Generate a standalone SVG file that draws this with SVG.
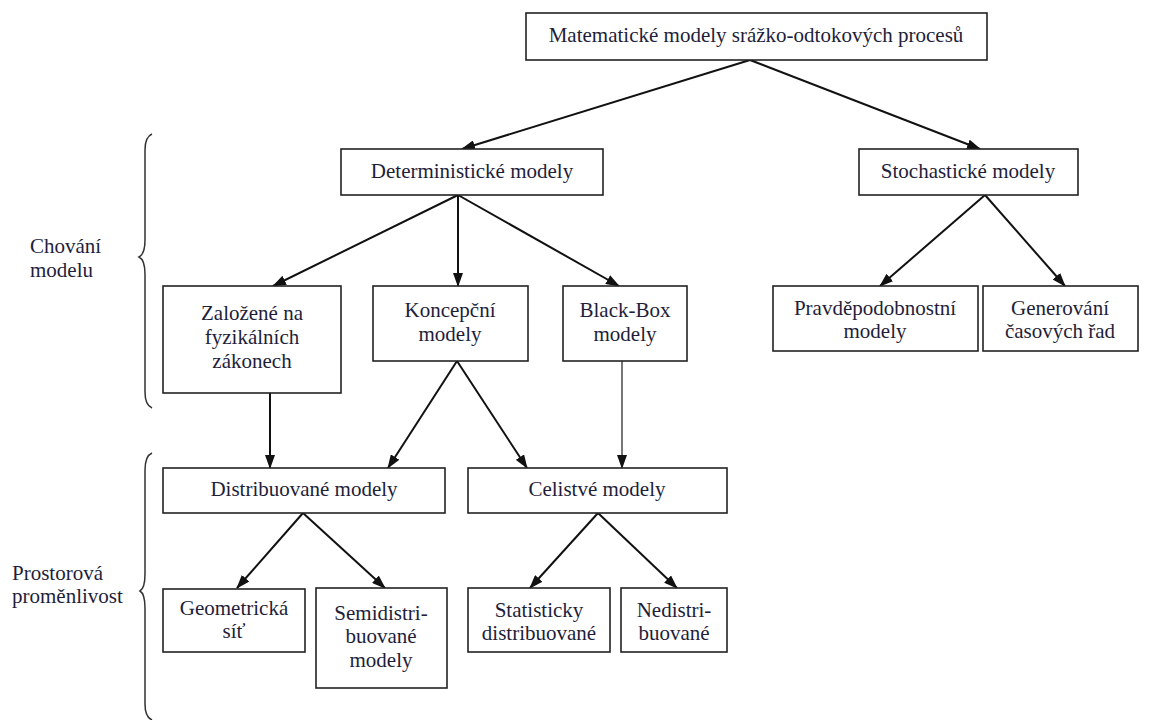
<svg xmlns="http://www.w3.org/2000/svg" width="1150" height="720" viewBox="0 0 1150 720">
<defs>
<style>
.box{fill:#fff;stroke:#222;stroke-width:1.6}
.t{font-family:"Liberation Serif","Times New Roman",serif;font-size:21px;fill:#1e1e3a;text-anchor:middle}
.lbl{font-family:"Liberation Serif","Times New Roman",serif;font-size:21px;fill:#1e1e3a}
.c{stroke:#111;stroke-width:2;fill:none}
.brace{stroke:#333;stroke-width:1.5;fill:none}
</style>
<marker id="ah" markerWidth="14" markerHeight="10" refX="13" refY="5" orient="auto" markerUnits="userSpaceOnUse">
<path d="M0,0 L14,5 L0,10 Z" fill="#111"/>
</marker>
</defs>
<rect width="1150" height="720" fill="#fff"/>

<g id="connectors">
<line class="c" x1="750" y1="60" x2="462" y2="149" marker-end="url(#ah)"/>
<line class="c" x1="750" y1="60" x2="980" y2="149" marker-end="url(#ah)"/>
<line class="c" x1="458" y1="195" x2="273" y2="286" marker-end="url(#ah)"/>
<line class="c" x1="458" y1="195" x2="458" y2="286" marker-end="url(#ah)"/>
<line class="c" x1="458" y1="195" x2="619" y2="286" marker-end="url(#ah)"/>
<line class="c" x1="985" y1="195" x2="880" y2="286" marker-end="url(#ah)"/>
<line class="c" x1="985" y1="195" x2="1065" y2="286" marker-end="url(#ah)"/>
<line class="c" x1="270" y1="393" x2="270" y2="468" marker-end="url(#ah)"/>
<line class="c" x1="457" y1="361" x2="388" y2="468" marker-end="url(#ah)"/>
<line class="c" x1="457" y1="361" x2="527" y2="468" marker-end="url(#ah)"/>
<line class="c" x1="622" y1="361" x2="622" y2="468" style="stroke:#777" marker-end="url(#ah)"/>
<line class="c" x1="303" y1="513" x2="237" y2="588" marker-end="url(#ah)"/>
<line class="c" x1="303" y1="513" x2="385" y2="588" marker-end="url(#ah)"/>
<line class="c" x1="598" y1="513" x2="530" y2="588" marker-end="url(#ah)"/>
<line class="c" x1="598" y1="513" x2="677" y2="588" marker-end="url(#ah)"/>
</g>

<g id="braces">
<path class="brace" d="M152,134 Q145,137 145,150 L145,240 Q145,254 139,257 Q145,260 145,274 L145,392 Q145,405 152,408"/>
<path class="brace" d="M152,453 Q145,456 145,470 L145,574 Q145,588 140,591 Q145,594 145,608 L145,704 Q145,717 152,720"/>
</g>

<g id="label-chovani">
<text class="lbl" x="30" y="253">Chování</text>
<text class="lbl" x="30" y="277">modelu</text>
</g>
<g id="label-prostorova">
<text class="lbl" x="12" y="580">Prostorová</text>
<text class="lbl" x="12" y="603">proměnlivost</text>
</g>

<g id="n-top">
<rect class="box" x="526" y="13" width="461" height="47"/>
<text class="t" x="756" y="42">Matematické modely srážko-odtokových procesů</text>
</g>
<g id="n-det">
<rect class="box" x="341" y="149" width="262" height="46"/>
<text class="t" x="472" y="178">Deterministické modely</text>
</g>
<g id="n-sto">
<rect class="box" x="859" y="149" width="219" height="46"/>
<text class="t" x="968" y="178">Stochastické modely</text>
</g>
<g id="n-zal">
<rect class="box" x="163" y="286" width="178" height="107"/>
<text class="t" x="252" y="320">Založené na</text>
<text class="t" x="252" y="344">fyzikálních</text>
<text class="t" x="252" y="368">zákonech</text>
</g>
<g id="n-kon">
<rect class="box" x="373" y="286" width="155" height="75"/>
<text class="t" x="450" y="317">Koncepční</text>
<text class="t" x="450" y="341">modely</text>
</g>
<g id="n-bb">
<rect class="box" x="563" y="286" width="124" height="75"/>
<text class="t" x="625" y="317">Black-Box</text>
<text class="t" x="625" y="341">modely</text>
</g>
<g id="n-pra">
<rect class="box" x="773" y="286" width="205" height="65"/>
<text class="t" x="875" y="315">Pravděpodobnostní</text>
<text class="t" x="875" y="338">modely</text>
</g>
<g id="n-gen">
<rect class="box" x="983" y="286" width="155" height="65"/>
<text class="t" x="1060" y="315">Generování</text>
<text class="t" x="1060" y="338">časových řad</text>
</g>
<g id="n-dis">
<rect class="box" x="163" y="468" width="282" height="45"/>
<text class="t" x="304" y="496">Distribuované modely</text>
</g>
<g id="n-cel">
<rect class="box" x="468" y="468" width="259" height="45"/>
<text class="t" x="597" y="496">Celistvé modely</text>
</g>
<g id="n-geo">
<rect class="box" x="163" y="589" width="142" height="63"/>
<text class="t" x="234" y="615">Geometrická</text>
<text class="t" x="234" y="638">síť</text>
</g>
<g id="n-semi">
<rect class="box" x="316" y="588" width="131" height="100"/>
<text class="t" x="381" y="620">Semidistri-</text>
<text class="t" x="381" y="643">buované</text>
<text class="t" x="381" y="667">modely</text>
</g>
<g id="n-stat">
<rect class="box" x="468" y="588" width="142" height="64"/>
<text class="t" x="539" y="617">Statisticky</text>
<text class="t" x="539" y="640">distribuované</text>
</g>
<g id="n-ned">
<rect class="box" x="621" y="588" width="106" height="64"/>
<text class="t" x="674" y="617">Nedistri-</text>
<text class="t" x="674" y="640">buované</text>
</g>
</svg>
